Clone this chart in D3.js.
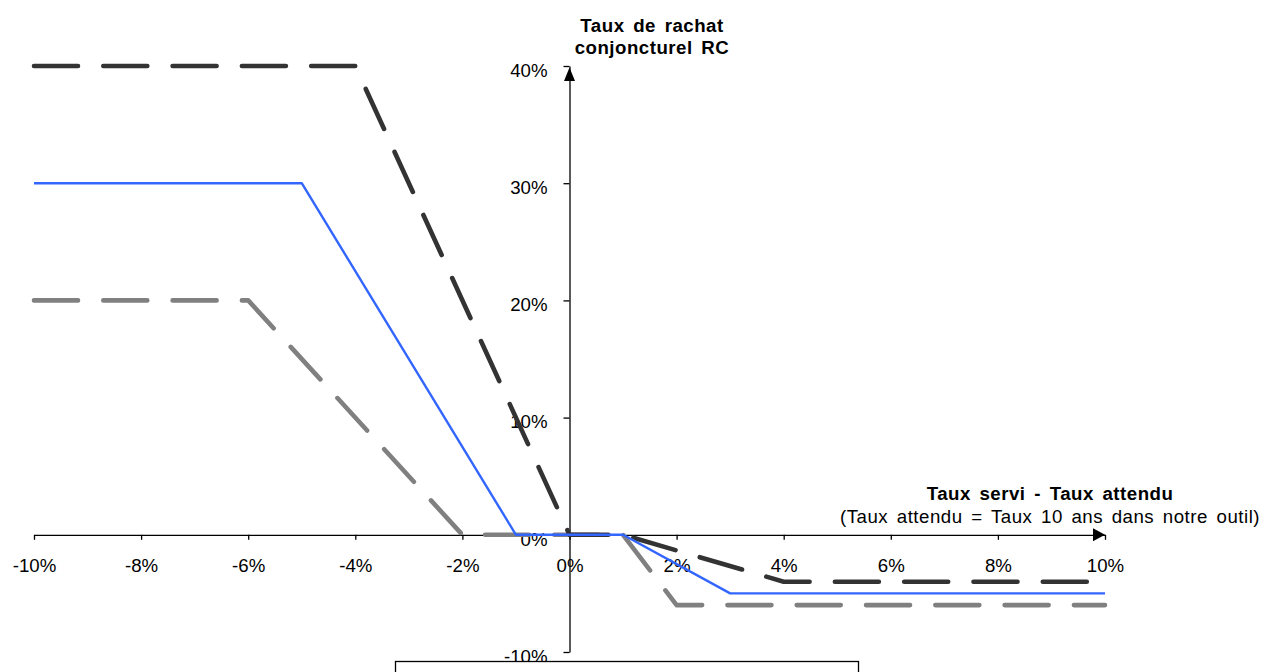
<!DOCTYPE html>
<html>
<head>
<meta charset="utf-8">
<script src="https://cdn.jsdelivr.net/npm/d3@7"></script>
<style>
  html, body { margin: 0; padding: 0; background: #ffffff; }
  svg { display: block; }
  text { font-family: "Liberation Sans", Arial, sans-serif; }
</style>
</head>
<body>
<script>
// ---- Data ----
const xTickValues = [-10, -8, -6, -4, -2, 0, 2, 4, 6, 8, 10];
const yTickValues = [-10, 0, 10, 20, 30, 40];

// Plafond max (dark dashed)
const plafondMaxX = [-10, -4, 0, 1, 4, 10];
const plafondMaxY = [40, 40, 0, 0, -4, -4];
// Moyenne (blue solid)
const moyenneX = [-10, -5, -1, 1, 3, 10];
const moyenneY = [30, 30, 0, 0, -5, -5];
// Plafond min (grey dashed)
const plafondMinX = [-10, -6, -2, 1, 2, 10];
const plafondMinY = [20, 20, 0, 0, -6, -6];

const yTitleLines = ["Taux de rachat", "conjoncturel RC"];
const xTitleLine1 = "Taux servi - Taux attendu";
const xTitleLine2 = "(Taux attendu = Taux 10 ans dans notre outil)";

// ---- Chart ----
const W = 1264, H = 672;
const FS = 18.67;
const svg = d3.select("body").append("svg").attr("width", W).attr("height", H);

const x = d3.scaleLinear().domain([-10, 10]).range([34, 1105]);
const y = d3.scaleLinear().domain([-10, 40]).range([652, 66]);
const fmt = d => d + "%";

// X axis
const xAxisG = svg.append("g")
  .attr("transform", `translate(0,${y(0)})`)
  .call(d3.axisBottom(x).tickValues(xTickValues).tickSize(5).tickSizeOuter(0)
        .tickPadding(19).tickFormat(fmt));
xAxisG.selectAll("text").attr("font-size", FS).attr("fill", "#000")
  .attr("font-family", "Liberation Sans, Arial, sans-serif");
xAxisG.selectAll("line, path").attr("stroke", "#000").attr("stroke-width", 1.3);

// Y axis
const yAxisG = svg.append("g")
  .attr("transform", `translate(${x(0)},0)`)
  .call(d3.axisLeft(y).tickValues(yTickValues).tickSize(6).tickSizeOuter(0)
        .tickPadding(16).tickFormat(fmt));
yAxisG.selectAll("text").attr("font-size", FS).attr("fill", "#000").attr("dy", "0.55em")
  .attr("font-family", "Liberation Sans, Arial, sans-serif");
yAxisG.selectAll("line, path").attr("stroke", "#000").attr("stroke-width", 1.3);

// Arrow heads
const x0 = x(0), y0 = y(0);
svg.append("path")
  .attr("d", `M${x(10)},${y0} L${x(10) - 12},${y0 - 6.5} L${x(10) - 12},${y0 + 6.5} Z`)
  .attr("fill", "#000");
svg.append("path")
  .attr("d", `M${x0},${y(40) + 1.5} L${x0 - 5.5},${y(40) + 15} L${x0 + 5.5},${y(40) + 15} Z`)
  .attr("fill", "#000");

// Series
const line = d3.line().x(d => x(d[0])).y(d => y(d[1]));
const series = [
  { xs: plafondMinX, ys: plafondMinY, color: "#808080", width: 4.6, dash: "44,25.3" },
  { xs: plafondMaxX, ys: plafondMaxY, color: "#333333", width: 4.6, dash: "44,25.3" },
  { xs: moyenneX, ys: moyenneY, color: "#3366ff", width: 2.4, dash: null }
];
series.forEach(s => {
  const pts = s.xs.map((v, i) => [v, s.ys[i]]);
  svg.append("path")
    .attr("d", line(pts))
    .attr("fill", "none")
    .attr("stroke", s.color)
    .attr("stroke-width", s.width)
    .attr("stroke-linecap", s.dash ? "round" : "butt")
    .attr("stroke-linejoin", "round")
    .attr("stroke-dasharray", s.dash);
});

// Titles
const yTitle = svg.append("text")
  .attr("text-anchor", "middle").attr("font-weight", "bold").attr("font-size", FS)
  .attr("letter-spacing", "0.5px").attr("word-spacing", "3px");
yTitle.selectAll("tspan").data(yTitleLines).join("tspan")
  .attr("x", 652).attr("y", (d, i) => 32 + i * 21.5).text(d => d);

svg.append("text")
  .attr("x", 1050).attr("y", 500).attr("text-anchor", "middle")
  .attr("font-weight", "bold").attr("font-size", FS)
  .attr("letter-spacing", "0.5px").attr("word-spacing", "3px")
  .text(xTitleLine1);
svg.append("text")
  .attr("x", 1050).attr("y", 523).attr("text-anchor", "middle")
  .attr("font-size", FS)
  .attr("letter-spacing", "0.5px").attr("word-spacing", "3px")
  .text(xTitleLine2);

// Legend box (empty, cut off at the bottom)
svg.append("rect")
  .attr("x", 395.5).attr("y", 661.5).attr("width", 463).attr("height", 40)
  .attr("fill", "#fff").attr("stroke", "#000").attr("stroke-width", 1.3);
</script>
</body>
</html>
